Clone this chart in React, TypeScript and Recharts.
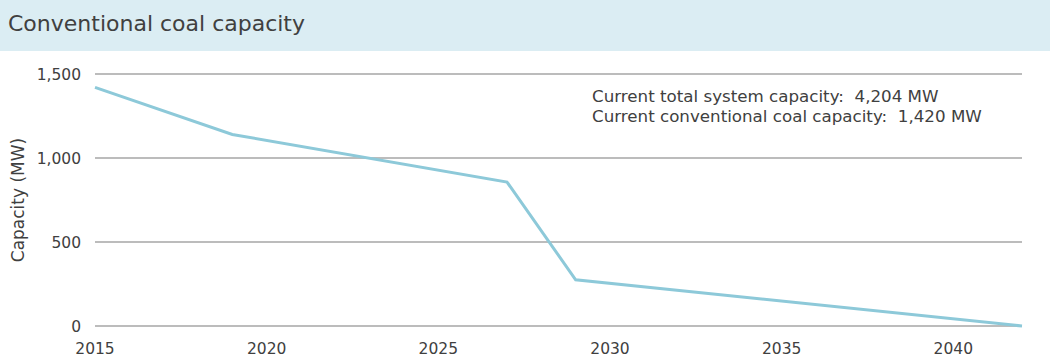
import { CartesianGrid, Line, LineChart, XAxis, YAxis } from 'recharts';

// Reset the default page margin so the chart sits at (0,0).
document.body.style.margin = '0';

const YEARS = [2015, 2019, 2027, 2029, 2042];
const CAPACITY_MW = [1420, 1140, 857, 275, 0];
const X_TICKS = [2015, 2020, 2025, 2030, 2035, 2040];
const Y_TICKS = [0, 500, 1000, 1500];
const NOTES = [
  'Current total system capacity:  4,204 MW',
  'Current conventional coal capacity:  1,420 MW',
];

const data = YEARS.map((year, i) => ({ year, capacity: CAPACITY_MW[i] }));

// Century Gothic is not installed; DejaVu Sans matches its width best.
const FONT = '"DejaVu Sans", sans-serif';
const INK = '#404040';
const LINE_COLOR = '#8dc9d9';
const GRID = '#a6a6a6';

const AXIS_TICK = { fill: INK, fontSize: 15.5, fontFamily: FONT } as const;

export default function App() {
  return (
    <div style={{ position: 'relative', width: 1050, height: 360, background: '#fff', fontFamily: FONT }}>
      <div
        style={{
          position: 'absolute',
          left: 0,
          top: 0,
          width: 1050,
          height: 51,
          background: '#dbedf3',
          color: INK,
          fontSize: 22,
          lineHeight: '47px',
          paddingLeft: 8,
          boxSizing: 'border-box',
        }}
      >
        Conventional coal capacity
      </div>
      <div style={{ position: 'absolute', left: 592, top: 86, color: INK, fontSize: 16.7, lineHeight: '20px' }}>
        {NOTES.map((n) => (
          <div key={n} style={{ whiteSpace: 'pre' }}>{n}</div>
        ))}
      </div>
      <LineChart
        width={1050}
        height={360}
        data={data}
        margin={{ top: 74, right: 28, bottom: 0, left: 0 }}
        style={{ position: 'absolute', left: 0, top: 0 }}
      >
        <CartesianGrid stroke={GRID} strokeWidth={1.5} vertical={false} />
        <XAxis
          dataKey="year"
          type="number"
          domain={[2015, 2042]}
          ticks={X_TICKS}
          tick={AXIS_TICK}
          axisLine={false}
          tickLine={false}
          tickMargin={11}
          height={34}
        />
        <YAxis
          domain={[0, 1500]}
          ticks={Y_TICKS}
          tick={AXIS_TICK}
          axisLine={false}
          tickLine={false}
          tickMargin={8}
          width={95}
          tickFormatter={(v: number) => v.toLocaleString('en-US')}
          label={{
            value: 'Capacity (MW)',
            angle: -90,
            position: 'insideLeft',
            offset: 18,
            style: { fill: INK, fontSize: 17, fontFamily: FONT, textAnchor: 'middle' },
          }}
        />
        <Line
          type="linear"
          dataKey="capacity"
          stroke={LINE_COLOR}
          strokeWidth={3}
          dot={false}
          isAnimationActive={false}
        />
      </LineChart>
    </div>
  );
}
